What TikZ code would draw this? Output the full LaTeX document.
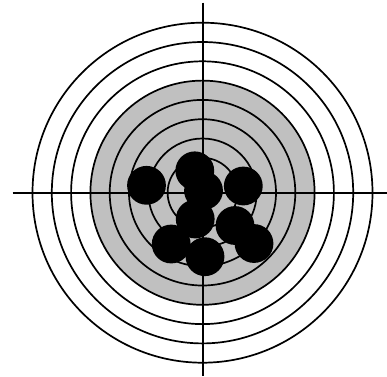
\documentclass[tikz,border=0pt]{standalone}
\definecolor{ringgray}{HTML}{C0C0C0}
\tikzset{
  ring/.style={draw=black, line width=1.7pt},
  axis/.style={draw=black, line width=2pt},
  shot/.style={fill=black}
}
\begin{document}
\begin{tikzpicture}[x=1pt,y=-1pt]
\useasboundingbox (0,0) rectangle (387,376);
\coordinate (c) at (202.5,192.7);
\fill[ringgray] (c) circle (112.1);
\foreach \r in {170,150.7,131.4,112.1,92.8,73.5,54.2,34.9}
  \draw[ring] (c) circle (\r);
\coordinate (l) at (12.7,192.7);
\coordinate (r) at (387,192.7);
\coordinate (t) at (202.5,2.7);
\coordinate (b) at (202.5,376);
\draw[axis] (l) -- (r);
\draw[axis] (t) -- (b);
\foreach \x/\y in {146.5/185.3, 194.8/170.8, 203.5/190.5, 243.3/186, 195.2/219, 235/225.5, 254/243.5, 171.2/244, 205/256.7}
  \fill[shot] (\x,\y) circle (19.4);
\end{tikzpicture}
\end{document}
